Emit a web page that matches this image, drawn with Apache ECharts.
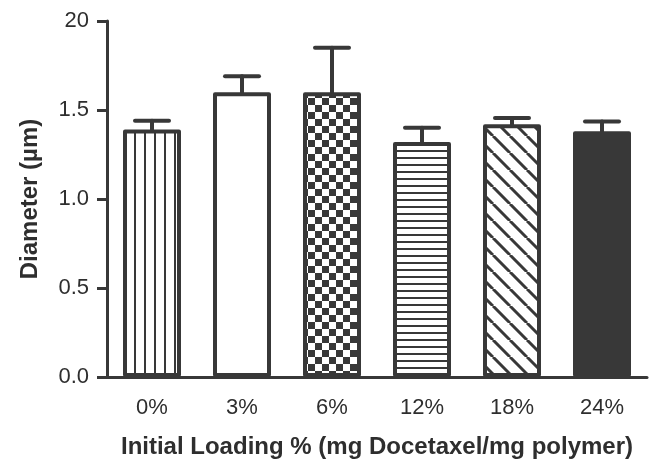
<!DOCTYPE html>
<html>
<head>
<meta charset="utf-8">
<script src="https://cdn.jsdelivr.net/npm/echarts@6/dist/echarts.min.js"></script>
<style>
  html, body { margin: 0; padding: 0; background: #fff; }
  #chart { width: 657px; height: 464px; }
</style>
</head>
<body>
<div id="chart"></div>
<script>
// data
var categories = ['0%', '3%', '6%', '12%', '18%', '24%']
var means = [1.39, 1.60, 1.60, 1.32, 1.42, 1.38]
var errors = [0.05, 0.09, 0.25, 0.08, 0.035, 0.055]
var yTicks = [0, 0.5, 1.0, 1.5, 2.0]
var yTickLabels = ['0.0', '0.5', '1.0', '1.5', '20']

var INK = '#383838'
var TEXT = '#2e2e2e'
var FONT = 'Liberation Sans, Arial, sans-serif'

// hatch fills, one small canvas per bar
function makeTile (w, h, draw) {
  var c = document.createElement('canvas')
  c.width = w
  c.height = h
  var ctx = c.getContext('2d')
  ctx.fillStyle = '#fff'
  ctx.fillRect(0, 0, w, h)
  ctx.fillStyle = INK
  ctx.strokeStyle = INK
  draw(ctx, w, h)
  return { image: c, repeat: 'repeat' }
}

var fills = [
  // vertical lines
  makeTile(10, 10, function (ctx) { ctx.fillRect(4, 0, 2, 10) }),
  // empty
  '#fff',
  // checkerboard
  makeTile(14, 14, function (ctx) {
    ctx.fillRect(0, 0, 7, 7)
    ctx.fillRect(7, 7, 7, 7)
  }),
  // horizontal lines
  makeTile(7, 7, function (ctx) { ctx.fillRect(0, 3, 7, 2) }),
  // diagonal "\" lines
  makeTile(17, 17, function (ctx, w) {
    ctx.lineWidth = 3
    ctx.beginPath()
    for (var k = -w; k <= w; k += w) {
      ctx.moveTo(k, 0)
      ctx.lineTo(k + w, w)
    }
    ctx.stroke()
  }),
  // solid
  INK
]

var barData = means.map(function (v, i) {
  return { value: v, itemStyle: { color: fills[i] } }
})
var errData = means.map(function (v, i) {
  return [i, v, v + errors[i]]
})

var chart = echarts.init(document.getElementById('chart'))
chart.setOption({
  animation: false,
  grid: {
    left: 107,
    right: 10,
    top: 21,
    bottom: 84
  },
  xAxis: {
    type: 'category',
    data: categories,
    name: 'Initial Loading % (mg Docetaxel/mg polymer)',
    nameLocation: 'middle',
    nameGap: 58,
    nameTextStyle: {
      fontFamily: FONT,
      fontWeight: 'bold',
      fontSize: 24,
      color: TEXT
    },
    axisLine: { lineStyle: { color: INK, width: 3 } },
    axisTick: {
      alignWithLabel: true,
      length: 10,
      lineStyle: { color: INK, width: 3 }
    },
    axisLabel: {
      margin: 20,
      fontFamily: FONT,
      fontSize: 22,
      color: TEXT
    }
  },
  yAxis: {
    type: 'value',
    min: 0,
    max: 2,
    interval: 0.5,
    name: 'Diameter (µm)',
    nameLocation: 'middle',
    nameGap: 65,
    nameTextStyle: {
      fontFamily: FONT,
      fontWeight: 'bold',
      fontSize: 24,
      color: TEXT
    },
    splitLine: { show: false },
    axisLine: { show: true, lineStyle: { color: INK, width: 3 } },
    axisTick: {
      show: true,
      length: 10,
      lineStyle: { color: INK, width: 3 }
    },
    axisLabel: {
      margin: 18,
      fontFamily: FONT,
      fontSize: 22,
      color: TEXT,
      formatter: function (v) {
        var i = yTicks.indexOf(v)
        return i >= 0 ? yTickLabels[i] : ''
      }
    }
  },
  series: [{
    type: 'custom',
    z: 1,
    data: errData,
    renderItem: function (params, api) {
      var base = api.coord([api.value(0), api.value(1)])
      var top = api.coord([api.value(0), api.value(2)])
      var half = 17
      var style = { stroke: INK, lineWidth: 4, lineCap: 'round' }
      return {
        type: 'group',
        children: [
          { type: 'line', shape: { x1: base[0], y1: base[1], x2: top[0], y2: top[1] }, style: style },
          { type: 'line', shape: { x1: top[0] - half, y1: top[1], x2: top[0] + half, y2: top[1] }, style: style }
        ]
      }
    }
  }, {
    type: 'bar',
    z: 2,
    barWidth: 58,
    data: barData,
    itemStyle: {
      borderColor: INK,
      borderWidth: 4,
      borderJoin: 'round'
    }
  }]
})
</script>
</body>
</html>
